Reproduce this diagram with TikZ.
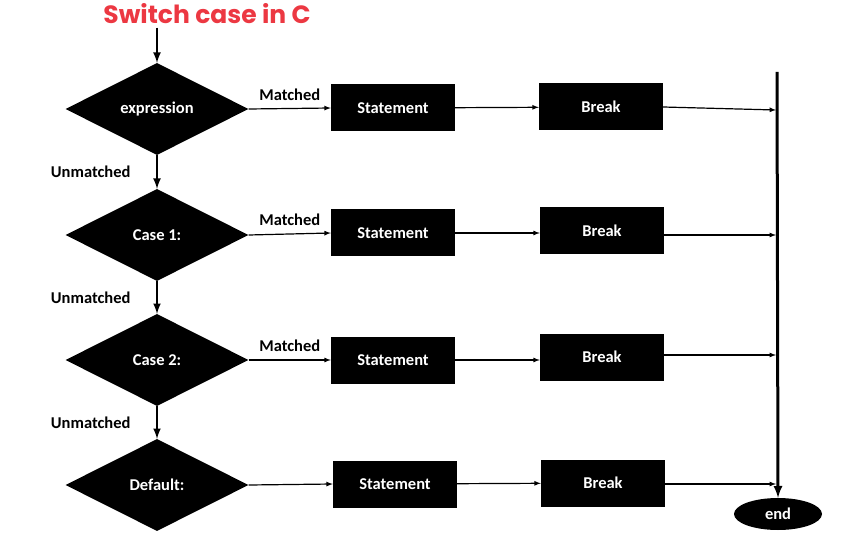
\documentclass[tikz,border=0pt]{standalone}
\usepackage{fontspec}
\setmainfont{Carlito}
\newfontfamily\titlefont{Poppins}
\usetikzlibrary{shapes}
\usetikzlibrary{arrows}
\definecolor{titlered}{RGB}{236,56,66}

\begin{document}
\begin{tikzpicture}[x=1pt,y=-1pt]
			\tikzstyle{every node}=[font=\bfseries\fontsize{16.5}{19}\selectfont]
			\tikzstyle{decision}=[diamond, aspect=2, fill=black, text=white, minimum width=183pt, minimum height=92pt, inner sep=0pt]
			\tikzstyle{block}=[rectangle, fill=black, text=white, minimum width=124pt, minimum height=47pt]
			\tikzstyle{flow}=[->, >=latex, line width=1.2pt]
			\tikzstyle{down}=[->, >=latex, line width=2.5pt]
			
			\useasboundingbox (0,0) rectangle (867,537);
			
			\node[text=titlered, font=\titlefont\bfseries\fontsize{25}{29}\selectfont] (title) at (207,14) {Switch case in C};
			
			\node[decision] (expr) at (157,109) {expression};
			\node[decision] (case1) at (157,235) {Case 1:};
			\node[decision] (case2) at (157,360) {Case 2:};
			\node[decision] (dflt) at (157,485) {Default:};
			
			\node[block] (st1) at (393,108) {Statement};
			\node[block] (st2) at (393,233) {Statement};
			\node[block] (st3) at (393,360) {Statement};
			\node[block] (st4) at (395,484) {Statement};
			
			\node[block] (br1) at (601,107) {Break};
			\node[block] (br2) at (602,231) {Break};
			\node[block] (br3) at (602,357) {Break};
			\node[block] (br4) at (603,483) {Break};
			
			\node[ellipse, fill=black, text=white, minimum width=88pt, minimum height=32pt, inner sep=0pt] (end) at (778,514) {end};
			
			\coordinate (bar) at (777,72);
			\coordinate (j1) at (776,110);
			\coordinate (j2) at (776,235);
			\coordinate (j3) at (776,355);
			\coordinate (j4) at (776,484);
			
			\draw[down] (title.south -| expr.north) -- (expr.north);
			\draw[down] (expr.south) -- node[left=22pt] {Unmatched} (case1.north);
			\draw[down] (case1.south) -- node[left=22pt] {Unmatched} (case2.north);
			\draw[down] (case2.south) -- node[left=22pt] {Unmatched} (dflt.north);
			
			\draw[flow] (expr.east) -- node[above=4pt] {Matched} (st1.west);
			\draw[flow] (case1.east) -- node[above=4pt] {Matched} (st2.west);
			\draw[flow] (case2.east) -- node[above=4pt] {Matched} (st3.west);
			\draw[flow] (dflt.east) -- (st4.west);
			
			\draw[flow] (st1) -- (br1);
			\draw[flow] (st2.east) -- (br2.west |- st2.east);
			\draw[flow] (st3.east) -- (br3.west |- st3.east);
			\draw[flow] (st4) -- (br4);
			
			\draw[flow] (br1.east) -- (j1);
			\draw[flow] (br2.east |- j2) -- (j2);
			\draw[flow] (br3.east |- j3) -- (j3);
			\draw[flow] (br4.east |- j4) -- (j4);
			
			\draw[->, >=latex, line width=3pt] (bar) -- (end.north);
\end{tikzpicture}
\end{document}
